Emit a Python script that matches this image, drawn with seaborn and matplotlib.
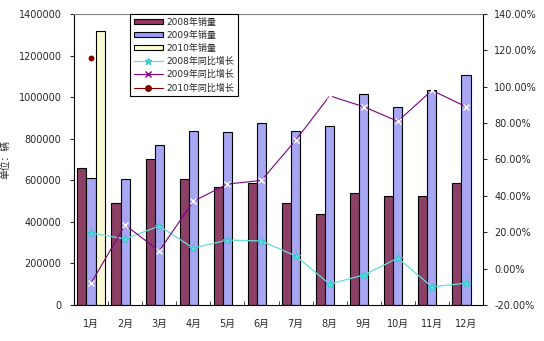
import matplotlib
matplotlib.use("Agg")
import matplotlib.pyplot as plt
import seaborn as sns
import pandas as pd
import numpy as np
from matplotlib.ticker import FuncFormatter, FixedLocator
from matplotlib.patches import Patch
from matplotlib.lines import Line2D

months = ["1月", "2月", "3月", "4月", "5月", "6月", "7月", "8月", "9月", "10月", "11月", "12月"]
sales_2008 = [660000, 490000, 700000, 605000, 568000, 587000, 490000, 438000, 538000, 524000, 524000, 585000]
sales_2009 = [610000, 605000, 772000, 835000, 832000, 875000, 835000, 860000, 1015000, 953000, 1034000, 1105000]
sales_2010 = [1320000]
growth_2008 = [19.6, 16.3, 23.4, 11.3, 15.7, 15.2, 7.0, -8.5, -3.5, 5.8, -10.0, -8.0]
growth_2009 = [-8.0, 24.0, 9.7, 37.0, 46.5, 48.5, 70.5, 95.0, 89.0, 81.0, 98.0, 89.0]
growth_2010 = [115.8]

bar_labels = ["2008年销量", "2009年销量", "2010年销量"]
line_labels = ["2008年同比增长", "2009年同比增长", "2010年同比增长"]

sns.set_style("white")
plt.rcParams["font.family"] = ["DejaVu Sans", "Noto Sans CJK SC"]
plt.rcParams["axes.unicode_minus"] = False

rows = []
for m, v in zip(months, sales_2008):
    rows.append((m, bar_labels[0], v))
for m, v in zip(months, sales_2009):
    rows.append((m, bar_labels[1], v))
for m, v in zip(months[:len(sales_2010)], sales_2010):
    rows.append((m, bar_labels[2], v))
df = pd.DataFrame(rows, columns=["month", "series", "value"])

fig = plt.figure(figsize=(5.44, 3.41), dpi=100)
ax = fig.add_axes([0.136, 0.1056, 0.752, 0.8534])

bar_colors = ["#993366", "#9999FF", "#FFFFCC"]
sns.barplot(data=df, x="month", y="value", hue="series", order=months,
            hue_order=bar_labels, palette=bar_colors, width=0.8,
            edgecolor="black", linewidth=0.8, ax=ax, legend=False, errorbar=None)

ax.set_ylim(0, 1400000)
ax.set_xlim(-0.5, 11.5)
ax.set_yticks(np.arange(0, 1400001, 200000))
ax.yaxis.set_major_formatter(FuncFormatter(lambda v, p: f"{int(v)}"))
ax.set_xlabel("")
ax.set_ylabel("单位：辆", fontsize=7, family=["Noto Sans CJK SC"])
ax.yaxis.set_label_coords(-0.155, 0.5)
ax.tick_params(axis="y", which="major", direction="out", length=3, labelsize=7, pad=6, left=True)
ax.tick_params(axis="x", which="major", length=0, labelsize=7, pad=10)
ax.xaxis.set_minor_locator(FixedLocator(np.arange(-0.5, 12, 1)))
ax.tick_params(axis="x", which="minor", direction="in", length=3, bottom=True)
for s in ["left", "bottom", "right"]:
    ax.spines[s].set_color("black")
    ax.spines[s].set_linewidth(0.8)
ax.spines["top"].set_color("#808080")
ax.spines["top"].set_linewidth(0.8)

ax2 = ax.twinx()
pos = list(range(len(months)))
ldf08 = pd.DataFrame({"x": pos, "y": growth_2008})
ldf09 = pd.DataFrame({"x": pos, "y": growth_2009})
ldf10 = pd.DataFrame({"x": pos[:len(growth_2010)], "y": growth_2010})
sns.lineplot(data=ldf08, x="x", y="y", ax=ax2, color="#66DDDD", linewidth=0.9,
             marker="*", markersize=6, markeredgecolor="#33CCCC", sort=False, legend=False)
sns.lineplot(data=ldf09, x="x", y="y", ax=ax2, color="#800080", linewidth=0.8,
             marker="x", markersize=4, markeredgewidth=1, sort=False, legend=False)
sns.lineplot(data=ldf10, x="x", y="y", ax=ax2, color="#800000", linewidth=0.8,
             marker="o", markersize=5, sort=False, legend=False)
ax2.set_ylim(-20, 140)
ax2.set_yticks(np.arange(-20, 141, 20))
ax2.yaxis.set_major_formatter(FuncFormatter(lambda v, p: f"{v:.2f}%"))
ax2.set_xlim(-0.5, 11.5)
ax2.set_xlabel("")
ax2.set_ylabel("")
ax2.tick_params(axis="y", direction="out", length=3, labelsize=7, pad=5, right=True)
for s in ax2.spines.values():
    s.set_visible(False)

handles = [Patch(facecolor=c, edgecolor="black", linewidth=0.8) for c in bar_colors]
handles += [
    Line2D([], [], color="#66DDDD", marker="*", markersize=5, markeredgecolor="#33CCCC", lw=0.9),
    Line2D([], [], color="#800080", marker="x", markersize=4, lw=0.8),
    Line2D([], [], color="#800000", marker="o", markersize=4, lw=0.8),
]
leg = ax2.legend(handles, bar_labels + line_labels, loc="upper left",
                 bbox_to_anchor=(0.137, 1.0), fontsize=6.5, frameon=True, fancybox=False,
                 edgecolor="black", framealpha=1, handlelength=3.2, handleheight=0.6,
                 labelspacing=0.45, borderpad=0.4, handletextpad=0.4, borderaxespad=0)
leg.get_frame().set_linewidth(0.8)
for t in leg.get_texts():
    t.set_family(["DejaVu Sans", "Noto Sans CJK SC"])

fig.savefig("out.png", dpi=100)
